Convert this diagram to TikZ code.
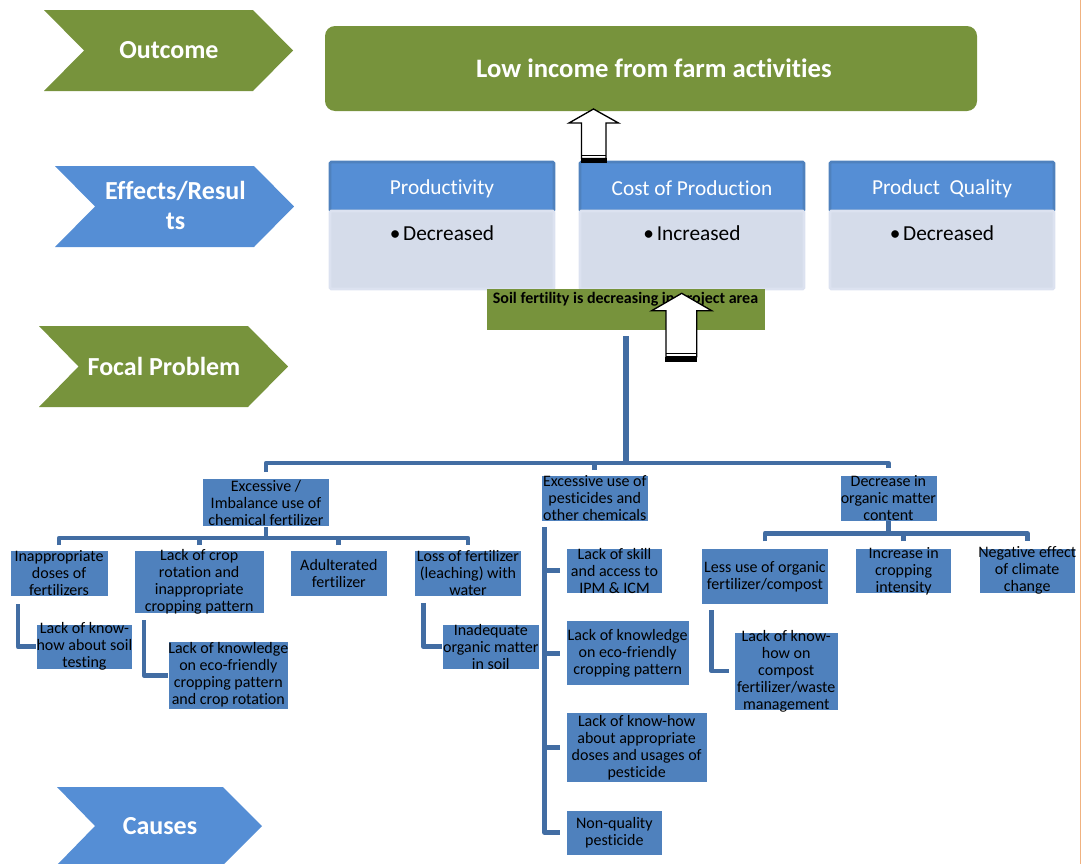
\documentclass[tikz,border=0pt]{standalone}
\usepackage{fontspec}
\setmainfont{Carlito}[Ligatures=NoCommon]
\usetikzlibrary{fit,calc}

\definecolor{leafgreen}{RGB}{119,147,60}
\definecolor{tagblue}{RGB}{85,142,213}
\definecolor{hdredge}{RGB}{79,129,189}
\definecolor{bodyfill}{RGB}{213,220,234}
\definecolor{bodyedge}{RGB}{220,226,240}
\definecolor{boxblue}{RGB}{79,129,189}
\definecolor{linkblue}{RGB}{66,109,163}
\definecolor{pageedge}{RGB}{240,178,128}

% cause box: name, corner, opposite corner, text
\newcommand{\causebox}[4]{%
  \node[cbox, fit={#2#3}] (#1) {};
  \node[ctext] (#1-label) at (#1.center) {#4};}

\begin{document}
\begin{tikzpicture}[x=0.75pt,y=-0.75pt,
  tagtext/.style={font=\bfseries\fontsize{19.5}{22.5}\selectfont, text=white, align=center, inner sep=0},
  hdr/.style={fill=tagblue, draw=hdredge, line width=2pt, rounded corners=1pt, inner sep=0},
  bodybox/.style={fill=bodyfill, draw=bodyedge, line width=2pt, rounded corners=1pt, inner sep=0},
  hdrtext/.style={font=\fontsize{16}{19}\selectfont, text=white, inner sep=0},
  bodytext/.style={font=\fontsize{16}{19}\selectfont, text=black, inner sep=0},
  cbox/.style={fill=boxblue, draw=white, line width=0.4pt, inner sep=0},
  ctext/.style={font=\fontsize{12}{12.75}\selectfont, text=black, align=center, inner sep=0},
  conn/.style={draw=linkblue, line width=3.6pt, line join=round},
  blockarrow/.style={fill=white, draw=black, line width=1pt, line join=miter}]

\useasboundingbox (0,0) rectangle (1082,864);

% ---- row labels (chevrons) ----
\fill[leafgreen] (44,10) -- (253,10) -- (293,50.5) -- (253,91) -- (44,91) -- (84,50.5) -- cycle;
\node[tagtext] (outcomeTag) at (169,50) {Outcome};

\fill[tagblue] (55,166) -- (254,166) -- (294,206.5) -- (254,247) -- (55,247) -- (95,206.5) -- cycle;
\node[tagtext] (effectsTag) at (175.5,205.7) {Effects/Resul\\ts};

\fill[leafgreen] (39,326) -- (248,326) -- (288,366.5) -- (248,407) -- (39,407) -- (78.5,366.5) -- cycle;
\node[tagtext] (focalTag) at (164,366) {Focal Problem};

\fill[tagblue] (57,787) -- (223,787) -- (262,826) -- (223,865) -- (57,865) -- (95,826) -- cycle;
\node[tagtext] (causesTag) at (160,826) {Causes};

% ---- outcome ----
\node[fill=leafgreen, rounded corners=7.5pt, inner sep=0, fit={(325,26)(977,111)}] (outcome) {};
\node[font=\bfseries\fontsize{20}{24}\selectfont, text=white, inner sep=0] (outcomeT) at (654,68) {Low income from farm activities};

% ---- effects ----
\node[hdr, fit={(330,162)(554,211)}] (prodH) {};
\node[bodybox, fit={(330,211)(554,289)}] (prodB) {};
\node[hdrtext] (prodHT) at (442,188.5) {Productivity};
\node[bodytext] (prodBT) at (442,233) {•\hspace{2pt}Decreased};

\node[hdr, fit={(580,162)(804,211)}] (costH) {};
\node[bodybox, fit={(580,211)(804,289)}] (costB) {};
\node[hdrtext] (costHT) at (692,188.5) {Cost of Production};
\node[bodytext] (costBT) at (692,233) {•\hspace{2pt}Increased};

\node[hdr, fit={(830,162)(1054,211)}] (qualH) {};
\node[bodybox, fit={(830,211)(1054,289)}] (qualB) {};
\node[hdrtext] (qualHT) at (942,188.5) {Product\ \ Quality};
\node[bodytext] (qualBT) at (942,233) {•\hspace{2pt}Decreased};

% ---- focal problem ----
\node[fill=leafgreen, inner sep=0, fit={(487,289)(765,330)}] (focal) {};
\node[font=\bfseries\fontsize{12}{14}\selectfont, text=black, inner sep=0] (focalT) at (625.5,299.5) {Soil fertility is decreasing in project area};

% ---- causes ----
\causebox{fert}{(202.5,478.3)}{(329.5,526.7)}{Excessive /\\Imbalance use of\\chemical fertilizer}
\causebox{pest}{(541.7,475.7)}{(647.8,521)}{Excessive use of\\pesticides and\\other chemicals}
\causebox{decr}{(840,475.7)}{(936.8,521)}{Decrease in\\organic matter\\content}

\causebox{doses}{(10.3,550.7)}{(107.8,596)}{Inappropriate\\doses of\\fertilizers}
\causebox{croprot}{(134.3,550.7)}{(264.1,613.3)}{Lack of crop\\rotation and\\inappropriate\\cropping pattern}
\causebox{adult}{(290.3,550.7)}{(387.4,596)}{Adulterated\\fertilizer}
\causebox{loss}{(414.3,550.7)}{(521.7,596)}{Loss of fertilizer\\(leaching) with\\water}
\causebox{soiltest}{(36.2,624.3)}{(132.6,669.3)}{Lack of know-\\how about soil\\testing}
\causebox{ecocrop}{(168,641)}{(288.6,709.3)}{Lack of knowledge\\on eco-friendly\\cropping pattern\\and crop rotation}
\causebox{inadeq}{(442.5,624.3)}{(539,669.3)}{Inadequate\\organic matter\\in soil}

\causebox{skill}{(566.3,548.3)}{(662.7,593.3)}{Lack of skill\\and access to\\IPM \& ICM}
\causebox{ecopest}{(566,620.7)}{(689.3,685.7)}{Lack of knowledge\\on eco-friendly\\cropping pattern}
\causebox{knowhow}{(566,712.7)}{(707.3,782.3)}{Lack of know-how\\about appropriate\\doses and usages of\\pesticide}
\causebox{nonq}{(566,810)}{(662.7,855)}{Non-quality\\pesticide}

\causebox{lessuse}{(701.4,548.3)}{(828.5,604.7)}{Less use of organic\\fertilizer/compost}
\causebox{incr}{(855.6,548.3)}{(951.7,593.3)}{Increase in\\cropping\\intensity}
\causebox{neg}{(978.8,548.3)}{(1075.6,593.3)}{Negative effect\\of climate\\change}
\causebox{compost}{(734.2,632)}{(838.3,710)}{Lack of know-\\how on\\compost\\fertilizer/waste\\management}

% ---- connectors ----
\coordinate (trunk) at (625.7,463);
\draw[conn, line width=4.5pt] ([yshift=-4.5pt]focal.south) -- (focal.south |- trunk);
\draw[conn] ([yshift=4.5pt]fert.north) |- (trunk) -| ([yshift=5.5pt]decr.north);
\draw[conn] ([yshift=4pt]pest.north) -- (pest.north |- trunk);

\coordinate (fertbar) at (266,538);
\draw[conn] (fert.south) -- (fert.south |- fertbar);
\draw[conn] ([yshift=4pt]doses.north) |- (fertbar) -| ([yshift=4pt]loss.north);
\draw[conn] ([yshift=4pt]croprot.north) -- (croprot.north |- fertbar);
\draw[conn] ([yshift=4pt]adult.north) -- (adult.north |- fertbar);

\draw[conn] ([xshift=6pt,yshift=-6pt]doses.south west) |- (soiltest.west);
\draw[conn] ([xshift=7.5pt,yshift=-5pt]croprot.south west) |- (ecocrop.west);
\draw[conn] ([xshift=7pt,yshift=-5pt]loss.south west) |- (inadeq.west);

\coordinate (pestspine) at ([xshift=2.5pt,yshift=-4.5pt]pest.south west);
\draw[conn] (pestspine) |- ([xshift=-4.5pt]nonq.west);
\draw[conn] ([xshift=-4.5pt]skill.west) -- (skill.west -| pestspine);
\draw[conn] ([xshift=-4.5pt]ecopest.west) -- (ecopest.west -| pestspine);
\draw[conn] ([xshift=-4.5pt]knowhow.west) -- (knowhow.west -| pestspine);

\coordinate (decrbar) at (888,533.3);
\draw[conn] (decr.south) -- (decr.south |- decrbar);
\draw[conn] ([yshift=5pt]lessuse.north) |- (decrbar) -| ([yshift=5pt]neg.north);
\draw[conn] ([yshift=5pt]incr.north) -- (incr.north |- decrbar);
\draw[conn] ([xshift=8pt,yshift=-4pt]lessuse.south west) |- ([xshift=-4pt]compost.west);

% ---- block arrows ----
\filldraw[blockarrow] (593.5,109) -- (618.5,123) -- (606,123) -- (606,158.5) -- (581.5,158.5) -- (581.5,123) -- (569,123) -- cycle;
\draw[black, line width=0.8pt] (581.5,155.5) -- (606,155.5);
\fill[black] (580.8,158.3) rectangle (606.7,162.5);

\filldraw[blockarrow] (681.7,293.3) -- (711.7,310.7) -- (696.7,310.7) -- (696.7,356.7) -- (666,356.7) -- (666,310.7) -- (651.7,310.7) -- cycle;
\draw[black, line width=0.8pt] (666,353.5) -- (696.7,353.5);
\fill[black] (665.3,356.5) rectangle (697.4,361.7);

% ---- page edge ----
\draw[pageedge, line width=0.8pt] (1080.5,0) -- (1080.5,864);
\end{tikzpicture}
\end{document}
